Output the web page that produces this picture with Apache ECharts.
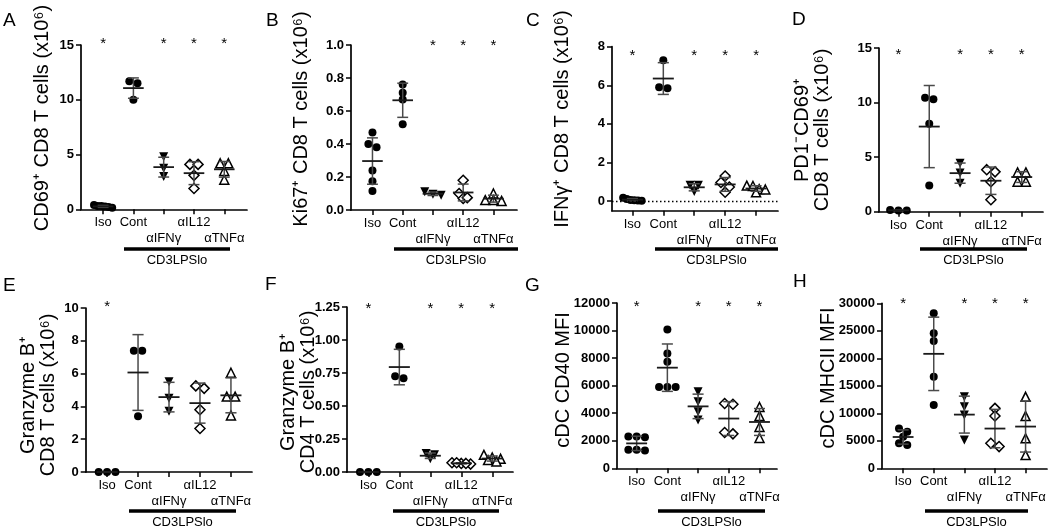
<!DOCTYPE html>
<html><head><meta charset="utf-8">
<script src="https://cdn.jsdelivr.net/npm/echarts@6/dist/echarts.min.js"></script>
<style>html,body{margin:0;padding:0;background:#fff}#c{width:1050px;height:528px}</style>
</head><body><div id="c"></div><script>
// ---------- data ----------
const groups = ['Iso', 'Cont', 'αIFNγ', 'αIL12', 'αTNFα'];
const panelLetters = ['A', 'B', 'C', 'D', 'E', 'F', 'G', 'H'];
const yTitles = [
  'CD69⁺ CD8 T cells (x10⁶)',
  'Ki67⁺ CD8 T cells (x10⁶)',
  'IFNγ⁺ CD8 T cells (x10⁶)',
  'PD1⁻CD69⁺\nCD8 T cells (x10⁶)',
  'Granzyme B⁺\nCD8 T cells (x10⁶)',
  'Granzyme B⁺\nCD4 T cells (x10⁶)',
  'cDC CD40 MFI',
  'cDC MHCII MFI'
];
const groupBarLabel = 'CD3LPSlo';

const A_vals = [[0.4, 0.3, 0.25, 0.2, 0.3, 0.15], [11.7, 11.5, 10.0], [4.8, 3.75, 3.0], [4.1, 4.1, 3.1, 1.9], [4.2, 4.2, 3.5, 2.7]];
const B_vals = [[0.47, 0.40, 0.38, 0.24, 0.175, 0.115], [0.76, 0.71, 0.67, 0.52], [0.09, 0.11, 0.095], [0.18, 0.10, 0.07, 0.075], [0.10, 0.06, 0.055, 0.06]];
const C_vals = [[0.17, 0.1, 0.06, 0.04, 0.03, 0.02], [7.3, 5.85, 5.9], [0.82, 0.82, 0.5], [1.3, 0.96, 0.73, 0.46], [0.8, 0.78, 0.62, 0.6, 0.45]];
const D_vals = [[0.15, 0.1, 0.12], [10.45, 10.3, 8.05, 2.4], [4.45, 3.55, 2.6], [3.85, 3.65, 2.75, 1.1], [3.6, 3.6, 2.75, 2.75]];
const E_vals = [[0, 0, 0], [7.4, 7.4, 3.4], [5.5, 4.5, 3.7], [5.25, 5.1, 3.8, 2.65], [6.05, 4.6, 4.6, 3.45]];
const F_vals = [[0, 0, 0], [0.95, 0.71, 0.725], [0.14, 0.13, 0.10], [0.07, 0.065, 0.06, 0.065, 0.07], [0.13, 0.11, 0.10, 0.09, 0.08]];
const G_vals = [[2300, 2250, 2300, 1350, 1300, 1350], [10070, 8330, 7730, 5900, 5900, 5900], [5550, 4830, 4100, 3500], [4700, 4650, 2600, 2500], [4450, 3800, 3000, 2200]];
const H_vals = [[7250, 6650, 5750, 4550, 4250], [28200, 24550, 23150, 16650, 11500], [13000, 11200, 9700, 5150], [10900, 9500, 3950, 4550], [13000, 9500, 5450, 2400]];

const A_sig = [1, 0, 1, 1, 1];
const B_sig = [0, 0, 1, 1, 1];
const C_sig = [1, 0, 1, 1, 1];
const D_sig = [1, 0, 1, 1, 1];
const E_sig = [1, 0, 0, 0, 0];
const F_sig = [1, 0, 1, 1, 1];
const G_sig = [1, 0, 1, 1, 1];
const H_sig = [1, 0, 1, 1, 1];

const A_ticks = [0, 5, 10, 15];
const A_tickLabels = ['0', '5', '10', '15'];
const B_ticks = [0, 0.2, 0.4, 0.6, 0.8, 1.0];
const B_tickLabels = ['0.0', '0.2', '0.4', '0.6', '0.8', '1.0'];
const C_ticks = [0, 2, 4, 6, 8];
const C_tickLabels = ['0', '2', '4', '6', '8'];
const D_ticks = [0, 5, 10, 15];
const D_tickLabels = ['0', '5', '10', '15'];
const E_ticks = [0, 2, 4, 6, 8, 10];
const E_tickLabels = ['0', '2', '4', '6', '8', '10'];
const F_ticks = [0, 0.25, 0.5, 0.75, 1.0, 1.25];
const F_tickLabels = ['0.00', '0.25', '0.50', '0.75', '1.00', '1.25'];
const G_ticks = [0, 2000, 4000, 6000, 8000, 10000, 12000];
const G_tickLabels = ['0', '2000', '4000', '6000', '8000', '10000', '12000'];
const H_ticks = [0, 5000, 10000, 15000, 20000, 25000, 30000];
const H_tickLabels = ['0', '5000', '10000', '15000', '20000', '25000', '30000'];

// ---------- layout (pixels / axis ranges) ----------
const layout = [
  {l: 81, r: 247, t: 45, b: 209.3, xMin: -0.73, xMax: 4.75, yMin: 0, yMax: 15, sigY: 15.5, nx: 42, ny: 118, lx: 3, ly: 21, bar: [124, 230], barY: 249},
  {l: 351, r: 517, t: 45, b: 210, xMin: -0.71, xMax: 4.78, yMin: 0, yMax: 1, sigY: 1.02, nx: 301, ny: 119, lx: 266, ly: 21, bar: [394, 518], barY: 249},
  {l: 612, r: 778, t: 46.7, b: 210.7, xMin: -0.66, xMax: 4.71, yMin: -0.5, yMax: 8, sigY: 7.75, nx: 562, ny: 119, lx: 526, ly: 21, bar: [655, 778], barY: 249},
  {l: 879, r: 1043, t: 48, b: 211.7, xMin: -0.63, xMax: 4.69, yMin: 0, yMax: 15, sigY: 14.7, nx: 812.5, ny: 130, lx: 792, ly: 20, bar: [920, 1027], barY: 249},
  {l: 85.7, r: 252, t: 308, b: 472, xMin: -0.69, xMax: 4.68, yMin: 0, yMax: 10, sigY: 10.3, nx: 38, ny: 395, lx: 3, ly: 286, bar: [129, 236], barY: 511},
  {l: 347, r: 513, t: 307, b: 472, xMin: -0.69, xMax: 4.67, yMin: 0, yMax: 1.25, sigY: 1.27, nx: 298, ny: 392, lx: 265, ly: 285, bar: [393, 499], barY: 511},
  {l: 617, r: 777, t: 303, b: 468.3, xMin: -0.64, xMax: 4.57, yMin: 0, yMax: 12000, sigY: 12000, nx: 563, ny: 380, lx: 525, ly: 286, bar: [658, 765], barY: 511},
  {l: 882, r: 1047, t: 303.3, b: 468.3, xMin: -0.69, xMax: 4.7, yMin: 0, yMax: 30000, sigY: 30700, nx: 828, ny: 378, lx: 793, ly: 282, bar: [925, 1028], barY: 511}
];

const panels = [
  {vals: A_vals, sig: A_sig, ticks: A_ticks, tl: A_tickLabels},
  {vals: B_vals, sig: B_sig, ticks: B_ticks, tl: B_tickLabels},
  {vals: C_vals, sig: C_sig, ticks: C_ticks, tl: C_tickLabels},
  {vals: D_vals, sig: D_sig, ticks: D_ticks, tl: D_tickLabels},
  {vals: E_vals, sig: E_sig, ticks: E_ticks, tl: E_tickLabels},
  {vals: F_vals, sig: F_sig, ticks: F_ticks, tl: F_tickLabels},
  {vals: G_vals, sig: G_sig, ticks: G_ticks, tl: G_tickLabels},
  {vals: H_vals, sig: H_sig, ticks: H_ticks, tl: H_tickLabels}
];

const FONT = '"Liberation Sans", Arial, sans-serif';
const symbolStyles = [
  {symbol: 'circle', symbolSize: 8, symbolRotate: 0, itemStyle: {color: '#000', opacity: 1}},
  {symbol: 'circle', symbolSize: 8, symbolRotate: 0, itemStyle: {color: '#000', opacity: 1}},
  {symbol: 'triangle', symbolSize: 9, symbolRotate: 180, itemStyle: {color: '#000', opacity: 1}},
  {symbol: 'diamond', symbolSize: 10, symbolRotate: 0, itemStyle: {color: '#fff', borderColor: '#000', borderWidth: 1.5, opacity: 1}},
  {symbol: 'triangle', symbolSize: 9, symbolRotate: 0, itemStyle: {color: '#fff', borderColor: '#000', borderWidth: 1.5, opacity: 1}}
];
const labelRow1 = [0, 1, 3];
const labelRow2 = [2, 4];

function jitter(vals, range) {
  const t = 0.03 * range;
  const idx = vals.map((v, i) => i).sort((a, b) => vals[b] - vals[a]);
  const off = new Array(vals.length).fill(0);
  let i = 0;
  while (i < idx.length) {
    let j = i + 1;
    while (j < idx.length && vals[idx[i]] - vals[idx[j]] < t) j++;
    const k = j - i;
    const step = k > 1 ? Math.min(0.27, 0.6 / (k - 1)) : 0;
    for (let q = i; q < j; q++) off[idx[q]] = (q - i - (k - 1) / 2) * step;
    i = j;
  }
  return off;
}
function meanSd(v) {
  const m = v.reduce((a, b) => a + b, 0) / v.length;
  const s = v.length > 1 ? Math.sqrt(v.reduce((a, b) => a + (b - m) * (b - m), 0) / (v.length - 1)) : 0;
  return [m, s];
}

function renderErr(params, api) {
  const x = api.value(0), m = api.value(1), s = api.value(2);
  const c = api.coord([x, m]), t = api.coord([x, m + s]), b = api.coord([x, m - s]);
  const u = api.size([1, 0])[0];
  const mw = 0.34 * u, cw = 0.18 * u;
  const st = {stroke: '#4a4a4a', lineWidth: 1.5};
  return {type: 'group', children: [
    {type: 'line', shape: {x1: c[0], y1: t[1], x2: c[0], y2: b[1]}, style: st},
    {type: 'line', shape: {x1: c[0] - cw, y1: t[1], x2: c[0] + cw, y2: t[1]}, style: st},
    {type: 'line', shape: {x1: c[0] - cw, y1: b[1], x2: c[0] + cw, y2: b[1]}, style: st},
    {type: 'line', shape: {x1: c[0] - mw, y1: c[1], x2: c[0] + mw, y2: c[1]}, style: {stroke: '#1a1a1a', lineWidth: 1.8}}
  ]};
}
function renderStar(params, api) {
  const p = api.coord([api.value(0), api.value(1)]);
  return {type: 'text', x: p[0], y: p[1] + 4, style: {text: '*', font: '15px ' + FONT, textAlign: 'center', textVerticalAlign: 'middle', fill: '#000'}};
}

const grid = [], xAxis = [], yAxis = [], series = [], graphic = [];
panels.forEach((P, pi) => {
  const L = layout[pi];
  grid.push({left: L.l, top: L.t, width: L.r - L.l, height: L.b - L.t, outerBoundsMode: 'none', containLabel: false});
  const xi = xAxis.length;
  // main x axis: line, ticks, first row of labels
  xAxis.push({
    gridIndex: pi, type: 'value', min: L.xMin, max: L.xMax, position: 'bottom',
    axisLine: {show: true, onZero: false, lineStyle: {color: '#000', width: 1.7}},
    axisTick: {show: true, customValues: [0, 1, 2, 3, 4], length: 5, lineStyle: {color: '#000', width: 1.5}},
    axisLabel: {
      show: true, customValues: labelRow1, margin: 7, showMinLabel: true, showMaxLabel: true, hideOverlap: false,
      fontFamily: FONT, fontSize: 13, color: '#000',
      formatter: v => groups[Math.round(v)]
    },
    splitLine: {show: false}
  });
  // second row of labels
  xAxis.push({
    gridIndex: pi, type: 'value', min: L.xMin, max: L.xMax, position: 'bottom', offset: 0,
    axisLine: {show: false, onZero: false}, axisTick: {show: false},
    axisLabel: {
      show: true, customValues: labelRow2, margin: 23, showMinLabel: true, showMaxLabel: true, hideOverlap: false,
      fontFamily: FONT, fontSize: 13, color: '#000',
      formatter: v => groups[Math.round(v)]
    },
    splitLine: {show: false}
  });
  yAxis.push({
    gridIndex: pi, type: 'value', min: L.yMin, max: L.yMax,
    axisLine: {show: true, onZero: false, lineStyle: {color: '#000', width: 1.7}},
    axisTick: {show: true, customValues: P.ticks, length: 5, lineStyle: {color: '#000', width: 1.5}},
    axisLabel: {
      show: true, customValues: P.ticks, margin: 7, showMinLabel: true, showMaxLabel: true,
      fontFamily: FONT, fontSize: 13, fontWeight: 'bold', color: '#000',
      formatter: v => { const k = P.ticks.findIndex(t => Math.abs(t - v) < 1e-9); return k >= 0 ? P.tl[k] : ''; }
    },
    splitLine: {show: false}
  });
  const range = L.yMax - L.yMin;
  const stats = [];
  P.vals.forEach((vals, gi) => {
    const off = jitter(vals, range);
    const st = symbolStyles[gi];
    const s = {
      type: 'scatter', xAxisIndex: xi, yAxisIndex: pi, silent: true, z: 3,
      symbol: st.symbol, symbolSize: st.symbolSize, symbolRotate: st.symbolRotate,
      itemStyle: st.itemStyle,
      data: vals.map((v, k) => [gi + off[k], v])
    };
    if (pi === 2 && gi === 0) {
      s.markLine = {silent: true, symbol: 'none', label: {show: false},
        lineStyle: {type: [1.5, 2.5], color: '#000', width: 1.3}, data: [{yAxis: 0}]};
    }
    series.push(s);
    const ms = meanSd(vals);
    stats.push([gi, ms[0], ms[1]]);
  });
  series.push({type: 'custom', xAxisIndex: xi, yAxisIndex: pi, silent: true, clip: false, z: 4,
    renderItem: renderErr, data: stats});
  series.push({type: 'custom', xAxisIndex: xi, yAxisIndex: pi, silent: true, clip: false, z: 4,
    renderItem: renderStar, data: P.sig.map((s, gi) => s ? [gi, L.sigY] : null).filter(d => d)});

  graphic.push({type: 'text', x: L.lx, y: L.ly, style: {text: panelLetters[pi], font: '19px ' + FONT, fill: '#000', textVerticalAlign: 'middle'}});
  graphic.push({type: 'text', x: L.nx, y: L.ny, rotation: Math.PI / 2,
    style: {text: yTitles[pi], font: '20px ' + FONT, fill: '#000', textAlign: 'center', textVerticalAlign: 'middle', lineHeight: 20}});
  graphic.push({type: 'line', shape: {x1: L.bar[0], y1: L.barY, x2: L.bar[1], y2: L.barY}, style: {stroke: '#000', lineWidth: 3.5}});
  graphic.push({type: 'text', x: (L.bar[0] + L.bar[1]) / 2, y: L.barY + 11,
    style: {text: groupBarLabel, font: '13px ' + FONT, fill: '#000', textAlign: 'center', textVerticalAlign: 'middle'}});
});

const chart = echarts.init(document.getElementById('c'), null, {renderer: 'canvas'});
chart.setOption({animation: false, backgroundColor: '#fff', grid, xAxis, yAxis, series, graphic});
</script></body></html>
